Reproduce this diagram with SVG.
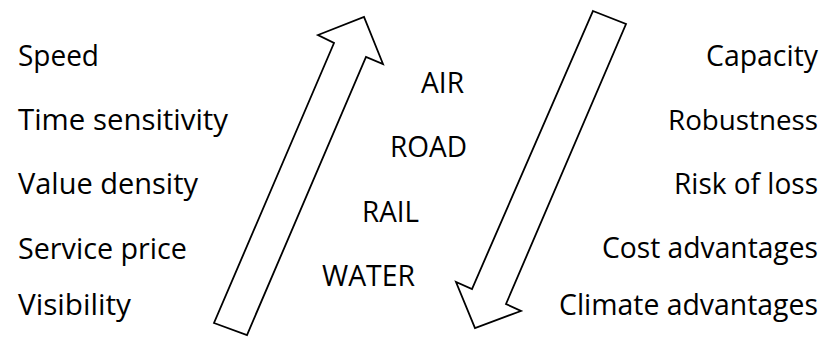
<svg xmlns="http://www.w3.org/2000/svg" width="823" height="338" viewBox="0 0 823 338">
  <style>
    .lbl { font-family: "Open Sans", "Liberation Sans", sans-serif; font-size: 29px; fill: #000; }
    .tight { font-size: 28px; }
    .arrow { fill: #fff; stroke: #000; stroke-width: 1.8; stroke-linejoin: miter; }
  </style>
  <rect width="823" height="338" fill="#fff"/>

  <!-- block arrows -->
  <g id="connectors">
    <polygon id="arrow-up" class="arrow" points="214,323 247,335 366,57 383,64 364,17 318,35 334,43"/>
    <polygon id="arrow-down" class="arrow" points="593,11 626,24 506,304 521,311 475,328 456,282 472,289"/>
  </g>

  <!-- left column -->
  <g id="left-attributes">
    <text class="lbl" x="18" y="66" textLength="81" lengthAdjust="spacingAndGlyphs">Speed</text>
    <text class="lbl" x="18" y="130" textLength="210" lengthAdjust="spacingAndGlyphs">Time sensitivity</text>
    <text class="lbl" x="18" y="194" textLength="180" lengthAdjust="spacingAndGlyphs">Value density</text>
    <text class="lbl" x="18" y="259" textLength="169" lengthAdjust="spacingAndGlyphs">Service price</text>
    <text class="lbl" x="18" y="315" textLength="113" lengthAdjust="spacingAndGlyphs">Visibility</text>
  </g>

  <!-- transport modes -->
  <g id="modes">
    <text class="lbl" x="421" y="93" textLength="43" lengthAdjust="spacingAndGlyphs">AIR</text>
    <text class="lbl" x="390" y="157" textLength="77" lengthAdjust="spacingAndGlyphs">ROAD</text>
    <text class="lbl" x="362" y="222" textLength="57" lengthAdjust="spacingAndGlyphs">RAIL</text>
    <text class="lbl" x="322" y="286" textLength="93" lengthAdjust="spacingAndGlyphs">WATER</text>
  </g>

  <!-- right column -->
  <g id="right-attributes">
    <text class="lbl" x="706" y="66" textLength="112" lengthAdjust="spacingAndGlyphs">Capacity</text>
    <text class="lbl tight" x="668" y="130" textLength="150" lengthAdjust="spacingAndGlyphs">Robustness</text>
    <text class="lbl" x="674" y="194" textLength="144" lengthAdjust="spacingAndGlyphs">Risk of loss</text>
    <text class="lbl" x="602" y="258" textLength="216" lengthAdjust="spacingAndGlyphs">Cost advantages</text>
    <text class="lbl" x="559" y="315" textLength="259" lengthAdjust="spacingAndGlyphs">Climate advantages</text>
  </g>
</svg>
